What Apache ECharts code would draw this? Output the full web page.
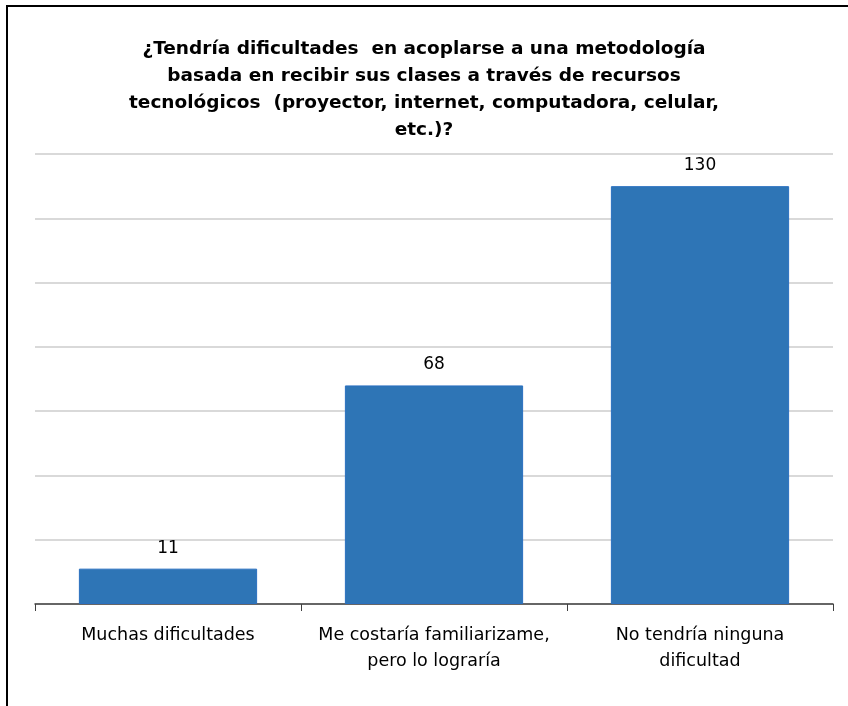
<!DOCTYPE html>
<html>
<head>
<meta charset="utf-8">
<script src="https://cdn.jsdelivr.net/npm/echarts@6/dist/echarts.min.js"></script>
<style>
  html, body { margin: 0; padding: 0; background: #fff; }
  #chart { width: 848px; height: 706px; }
</style>
</head>
<body>
<div id="chart"></div>
<script>
// datos del gráfico
const titulo = '¿Tendría dificultades  en acoplarse a una metodología\nbasada en recibir sus clases a través de recursos\ntecnológicos  (proyector, internet, computadora, celular,\netc.)?';
const categorias = ['Muchas dificultades', 'Me costaría familiarizame,\npero lo lograría', 'No tendría ninguna\ndificultad'];
const valores = [11, 68, 130];

const chart = echarts.init(document.getElementById('chart'));
chart.setOption({
  animation: false,
  title: {
    text: titulo,
    left: 'center',
    top: 31,
    textStyle: {
      fontFamily: 'DejaVu Sans',
      fontSize: 18.5,
      fontWeight: 'bold',
      color: '#000',
      lineHeight: 27
    }
  },
  graphic: [
    {
      type: 'rect',
      shape: { x: 7, y: 6, width: 900, height: 800 },
      style: { fill: 'none', stroke: '#000', lineWidth: 2 }
    }
  ],
  grid: { left: 35, right: 15, top: 154, bottom: 102 },
  xAxis: {
    type: 'category',
    data: categorias,
    axisLine: { lineStyle: { color: '#404040', width: 1.5 } },
    axisTick: { show: true, length: 7, lineStyle: { color: '#404040' } },
    axisLabel: {
      fontFamily: 'DejaVu Sans',
      fontSize: 17.5,
      color: '#000',
      margin: 18,
      lineHeight: 26,
      interval: 0
    }
  },
  yAxis: {
    type: 'value',
    min: 0,
    max: 140,
    interval: 20,
    axisLabel: { show: false },
    axisLine: { show: false },
    axisTick: { show: false },
    splitLine: { lineStyle: { color: '#d9d9d9', width: 2 } }
  },
  series: [
    {
      type: 'bar',
      data: valores,
      barCategoryGap: '33%',
      itemStyle: { color: '#2e75b6', borderColor: '#2a70c0', borderWidth: 1 },
      label: {
        show: true,
        position: 'top',
        distance: 12,
        fontFamily: 'DejaVu Sans',
        fontSize: 17,
        color: '#000'
      }
    }
  ]
});
</script>
</body>
</html>
